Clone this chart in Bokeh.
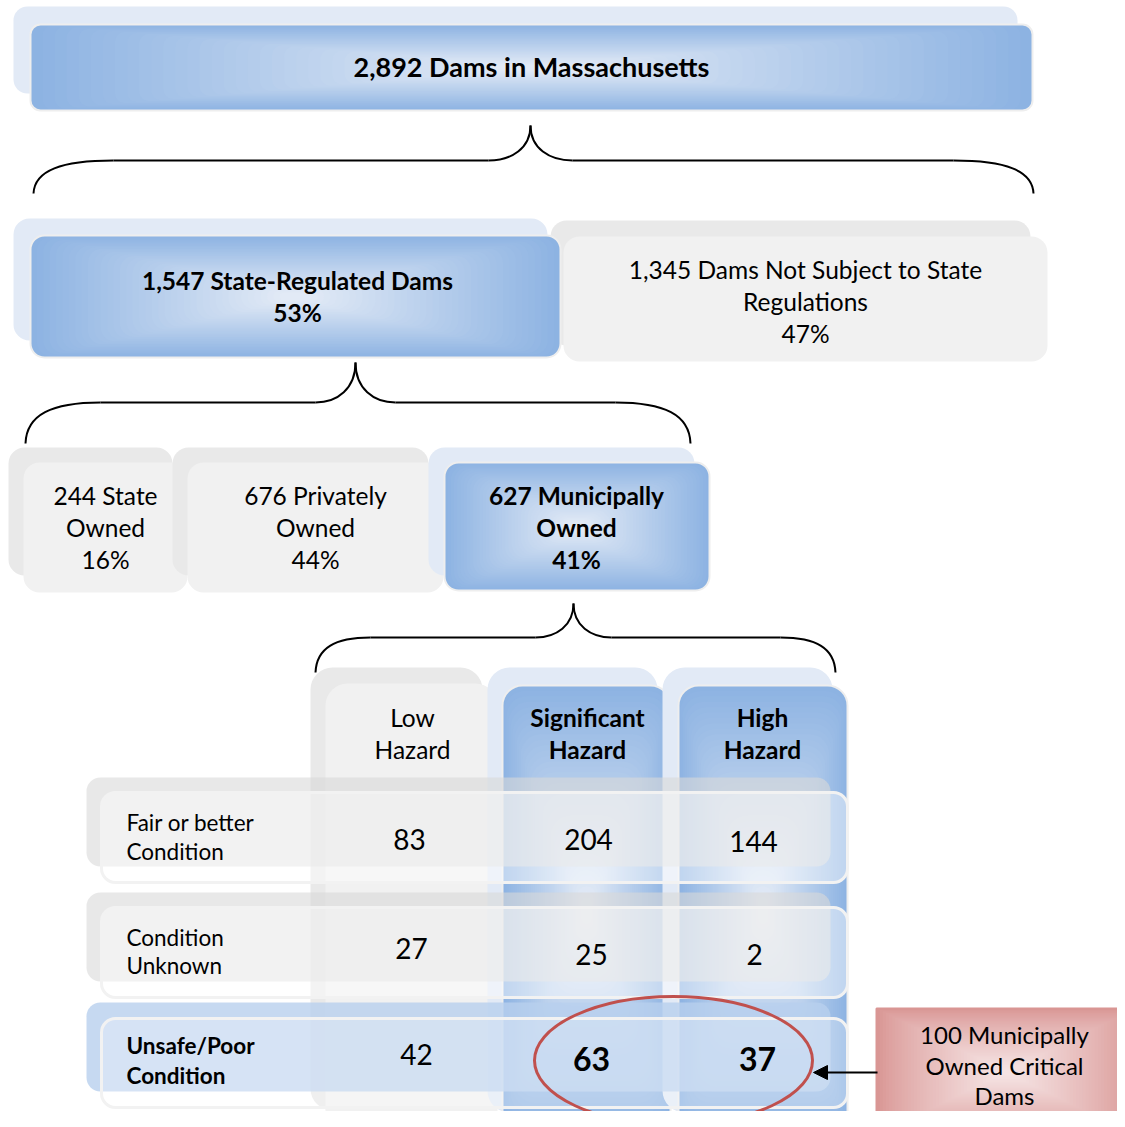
from bokeh.plotting import figure
from bokeh.models import ColumnDataSource, Range1d, Arrow, NormalHead
from bokeh.core.properties import value
from bokeh.embed import file_html
from bokeh.resources import INLINE

# ---------------- data ----------------
total_dams = 2892
state_regulated = 1547
not_regulated = 1345
regulated_pct = 53
not_regulated_pct = 47
owner_words = ["State", "Privately", "Municipally"]
owner_counts = [244, 676, 627]
owner_pct = [16, 44, 41]
hazard_first = ["Low", "Significant", "High"]
condition_lines = [["Fair or better", "Condition"], ["Condition", "Unknown"], ["Unsafe/Poor", "Condition"]]
fair_counts = [83, 204, 144]
unknown_counts = [27, 25, 2]
unsafe_counts = [42, 63, 37]

# ---------------- style ----------------
FONT = "Lato"
BLUE_EDGE = "#8db3e2"
BLUE_MID = "#e2eaf6"
BLUE_BACK = "#e2eaf6"
GRAY_BACK = "#e9e9e9"
GRAY_FRONT = "#f1f1f1"
PINK_EDGE = "#d99694"
PINK_MID = "#f5e3e3"
W, H = 1117, 1111

p = figure(width=W, height=H, x_range=Range1d(0, W), y_range=Range1d(H, 0),
           output_backend="svg", toolbar_location=None, x_axis_type=None, y_axis_type=None,
           min_border=0)
p.outline_line_color = None
p.background_fill_color = "white"
p.border_fill_color = "white"


def hexrgb(h):
    return tuple(int(h[i:i + 2], 16) for i in (1, 3, 5))


def mix(c1, c2, t):
    a, b = hexrgb(c1), hexrgb(c2)
    return "#%02x%02x%02x" % tuple(int(round(a[k] + (b[k] - a[k]) * t)) for k in range(3))


def box(l, r, t, b, color, radius, line=None, lw=2, alpha=1.0):
    p.quad(left=[l], right=[r], top=[t], bottom=[b], fill_color=color, fill_alpha=alpha,
           line_color=line, line_width=lw, border_radius=radius)


def gradient_box(l, r, t, b, edge, center, radius, n=40, gamma=1.0, outline="#eeeeee", maxf=0.94):
    hw, hh = (r - l) / 2.0, (b - t) / 2.0
    L, R, T, B, C = [], [], [], [], []
    for i in range(n):
        s = i / (n - 1) * maxf
        L.append(l + s * hw)
        R.append(r - s * hw)
        T.append(t + s * hh)
        B.append(b - s * hh)
        C.append(mix(edge, center, (i / (n - 1)) ** gamma))
    p.quad(left=L, right=R, top=T, bottom=B, fill_color=C, line_color=None, border_radius=radius)
    if outline:
        p.quad(left=[l], right=[r], top=[t], bottom=[b], fill_color=None, line_color=outline,
               line_width=2, border_radius=radius)


def add_text(xs, ys, texts, size, bold=False, align="center", color="black"):
    src = ColumnDataSource(dict(x=xs, y=[y - 1.5 for y in ys], text=texts))
    p.text(x="x", y="y", text="text", source=src, text_font=value(FONT),
           text_font_size=value("%spx" % size), text_font_style="bold" if bold else "normal",
           text_align=align, text_baseline="middle", text_color=color)


def brace(xl, xr, xt, ye, yb, yt, arm, tw):
    x0, y0, x1, y1, cx0, cy0, cx1, cy1 = [], [], [], [], [], [], [], []
    dv = ye - yb
    dt = yb - yt
    segs = [
        ((xl, ye), (xl + 1, ye - dv * 0.7), (xl + arm * 0.35, yb), (xl + arm, yb)),
        ((xt - tw, yb), (xt - tw * 0.45, yb), (xt, yb - dt * 0.35), (xt, yt)),
        ((xt, yt), (xt, yb - dt * 0.35), (xt + tw * 0.45, yb), (xt + tw, yb)),
        ((xr - arm, yb), (xr - arm * 0.35, yb), (xr - 1, ye - dv * 0.7), (xr, ye)),
    ]
    for a, c0, c1, b in segs:
        x0.append(a[0]); y0.append(a[1]); x1.append(b[0]); y1.append(b[1])
        cx0.append(c0[0]); cy0.append(c0[1]); cx1.append(c1[0]); cy1.append(c1[1])
    p.bezier(x0=x0, y0=y0, x1=x1, y1=y1, cx0=cx0, cy0=cy0, cx1=cx1, cy1=cy1,
             line_color="black", line_width=2)
    p.segment(x0=[xl + arm, xt + tw], y0=[yb, yb], x1=[xt - tw, xr - arm], y1=[yb, yb],
              line_color="black", line_width=2)


REG = 24.5  # regular text size

# ---------------- level 1 ----------------
box(13, 1017, 6, 93, BLUE_BACK, 14)
gradient_box(30, 1032, 24, 110, BLUE_EDGE, BLUE_MID, 10)
add_text([531], [67], ["{:,} Dams in Massachusetts".format(total_dams)], 27, bold=True)

brace(33, 1033, 530, 193, 160, 125, 80, 42)

# ---------------- level 2 ----------------
box(13, 547, 218, 340, BLUE_BACK, 16)
box(550, 1030, 220, 345, GRAY_BACK, 16)
gradient_box(30, 560, 235, 357, BLUE_EDGE, BLUE_MID, 14)
box(563, 1047, 236, 361, GRAY_FRONT, 16)
add_text([297, 297], [281, 313], ["{:,} State-Regulated Dams".format(state_regulated), "%d%%" % regulated_pct],
         24.5, bold=True)
add_text([805, 805, 805], [270, 302, 334],
         ["{:,} Dams Not Subject to State".format(not_regulated), "Regulations", "%d%%" % not_regulated_pct], REG)

brace(25, 690, 355, 443, 402, 362, 75, 40)

# ---------------- level 3 ----------------
box(8, 172, 447, 575, GRAY_BACK, 16)
box(23, 187, 462, 592, GRAY_FRONT, 16)
box(172, 428, 447, 575, GRAY_BACK, 16)
box(187, 443, 462, 592, GRAY_FRONT, 16)
box(428, 694, 447, 575, BLUE_BACK, 16)
gradient_box(444, 709, 462, 590, BLUE_EDGE, BLUE_MID, 14)
owner_x = [105, 315, 576]
for k in range(3):
    add_text([owner_x[k]] * 3, [496, 528, 560],
             ["%d %s" % (owner_counts[k], owner_words[k]), "Owned", "%d%%" % owner_pct[k]], REG,
             bold=(k == 2))

brace(315, 835, 573, 672, 637, 603, 55, 38)

# ---------------- level 4: hazard columns ----------------
box(310, 482, 667, 1110, GRAY_BACK, 22)
box(325, 497, 683, 1135, GRAY_FRONT, 22)
box(487, 657, 667, 1112, BLUE_BACK, 22)
gradient_box(502, 670, 685, 1135, BLUE_EDGE, BLUE_MID, 20)
box(662, 832, 667, 1112, BLUE_BACK, 22)
gradient_box(678, 847, 685, 1135, BLUE_EDGE, BLUE_MID, 20)
col_x = [412, 587, 762]
for k in range(3):
    add_text([col_x[k]] * 2, [718, 750], [hazard_first[k], "Hazard"], REG, bold=(k > 0))

# rows
row_top = [777, 892, 1002]
row_h = 89
for k in range(3):
    t = row_top[k]
    if k < 2:
        box(86, 830, t, t + row_h, "#d9d9d9", 14, alpha=0.6)
        box(101, 847, t + 15, t + row_h + 16, "#ffffff", 14, line="#f2f2f2", lw=3, alpha=0.45)
    else:
        box(86, 830, t, t + row_h, "#b8cfee", 14, alpha=0.8)
        box(101, 847, t + 16, t + row_h + 16, "#ffffff", 14, line="#f2f2f2", lw=3, alpha=0.28)

label_y = [[823, 852], [938, 966], [1046, 1076]]
for k in range(3):
    add_text([126, 126], label_y[k], condition_lines[k], 22.5, bold=(k == 2), align="left")

add_text([409, 588, 753], [840, 840, 842], [str(v) for v in fair_counts], 28)
add_text([411, 591, 754], [949, 955, 955], [str(v) for v in unknown_counts], 28)
add_text([416], [1055], [str(unsafe_counts[0])], 28)
add_text([591, 757], [1060, 1060], [str(v) for v in unsafe_counts[1:]], 32, bold=True)

# highlight ellipse and arrow
p.ellipse(x=[673], y=[1060], width=[278], height=[128], fill_color=None,
          line_color="#c0504d", line_width=3)
p.add_layout(Arrow(end=NormalHead(size=14, fill_color="black", line_color="black"),
                   x_start=877, y_start=1072, x_end=813, y_end=1072,
                   line_color="black", line_width=2))

# critical box
gradient_box(876, 1135, 1008, 1135, PINK_EDGE, PINK_MID, 0, gamma=0.8, outline=None)
box(876, 1135, 1008, 1135, None, 0, line=PINK_EDGE, lw=2)
critical = unsafe_counts[1] + unsafe_counts[2]
add_text([1004, 1004, 1004], [1035, 1066, 1096],
         ["%d Municipally" % critical, "Owned Critical", "Dams"], 24)

open("out.html", "w").write(file_html(p, INLINE))
